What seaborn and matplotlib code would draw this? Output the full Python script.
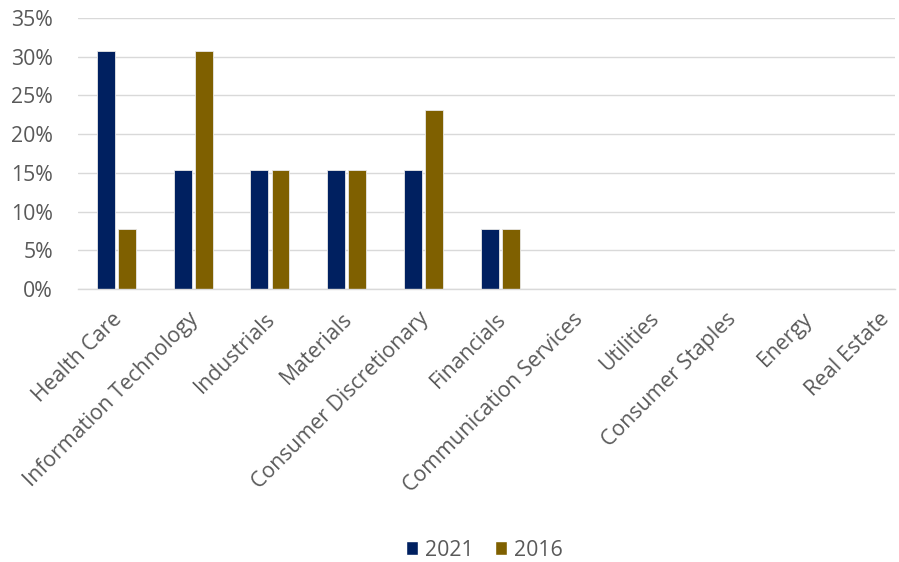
import matplotlib
matplotlib.use("Agg")
import matplotlib.pyplot as plt
import matplotlib.transforms as mtransforms
import seaborn as sns
import pandas as pd
from matplotlib.ticker import PercentFormatter
from matplotlib.patches import Patch

sectors = ["Health Care", "Information Technology", "Industrials", "Materials",
           "Consumer Discretionary", "Financials", "Communication Services",
           "Utilities", "Consumer Staples", "Energy", "Real Estate"]
v2021 = [30.8, 15.4, 15.4, 15.4, 15.4, 7.7, 0, 0, 0, 0, 0]
v2016 = [7.7, 30.8, 15.4, 15.4, 23.1, 7.7, 0, 0, 0, 0, 0]
years = ["2021", "2016"]
colors = ["#002060", "#7F6000"]

df = pd.DataFrame({
    "Sector": sectors * 2,
    "Value": v2021 + v2016,
    "Year": [years[0]] * len(sectors) + [years[1]] * len(sectors),
})

sns.set_style("white")
plt.rcParams["font.family"] = ["Open Sans", "DejaVu Sans"]
text_color = "#595959"
fs = 15.3

fig = plt.figure(figsize=(8.99, 5.62), dpi=100)
ax = fig.add_axes([78 / 899, 1 - 289 / 562, (895 - 78) / 899, (289 - 18) / 562])

sns.barplot(data=df, x="Sector", y="Value", hue="Year", order=sectors,
            hue_order=years, palette=colors, saturation=1, width=0.55, gap=0.15,
            edgecolor="#E8E8E8", linewidth=0.6, ax=ax, legend=False)

ax.set_xlim(-0.5, 10.14)
ax.set_ylim(0, 35)
ax.set_yticks(range(0, 36, 5))
ax.yaxis.set_major_formatter(PercentFormatter(decimals=0))
ax.grid(axis="y", color="#D9D9D9", linewidth=1)
ax.set_axisbelow(True)
for s in ["top", "right", "left"]:
    ax.spines[s].set_visible(False)
ax.spines["bottom"].set_color("#D9D9D9")
ax.spines["bottom"].set_linewidth(1)
ax.set_xlabel("")
ax.set_ylabel("")
ax.tick_params(axis="both", length=0, colors=text_color, labelsize=fs)
ax.tick_params(axis="y", pad=18)
ax.set_xticks(range(len(sectors)))
ax.set_xticklabels(sectors, rotation=45, ha="right", rotation_mode="anchor",
                   color=text_color, fontsize=fs)
ax.tick_params(axis="x", pad=14)
offset = mtransforms.ScaledTranslation(-5 / 100, 0, fig.dpi_scale_trans)
for lbl in ax.get_xticklabels():
    lbl.set_transform(lbl.get_transform() + offset)

handles = [Patch(facecolor=c, label=y) for c, y in zip(colors, years)]
fig.legend(handles=handles, loc="center", bbox_to_anchor=(484 / 899, 1 - 550 / 562),
           ncol=2, frameon=False, fontsize=fs, handlelength=0.6, handleheight=0.6,
           handletextpad=0.3, columnspacing=1.0, labelcolor=text_color)

fig.savefig("out.png", dpi=100)
